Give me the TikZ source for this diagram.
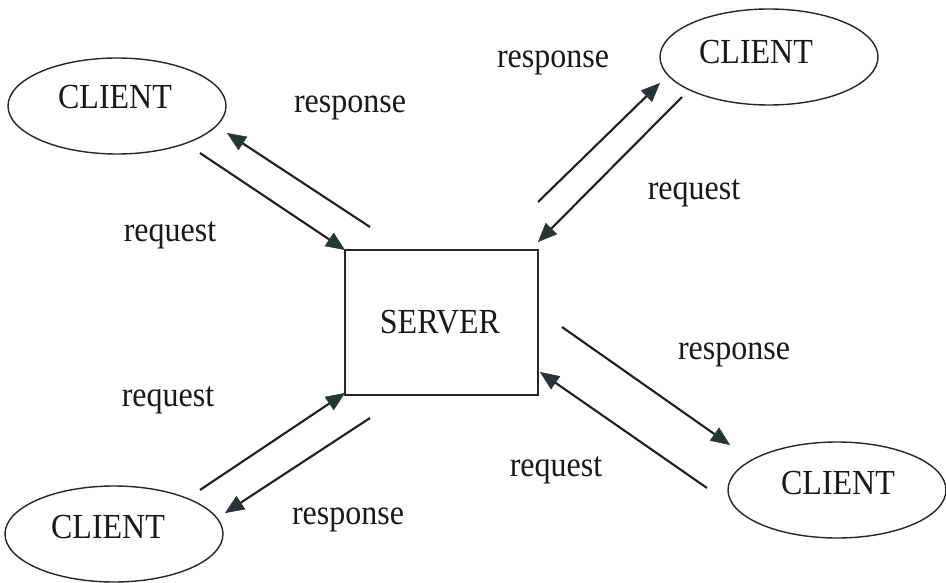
\documentclass[tikz,border=0pt]{standalone}
\usepackage{fontspec}
\setmainfont{Liberation Serif}
\usetikzlibrary{arrows.meta,shapes.geometric}

% labels are set slightly taller than wide
\newcommand{\tallword}[1]{\scalebox{1}[1.1]{#1}}

\definecolor{headgrey}{HTML}{2A3434}

\tikzset{
  client/.style={draw=black!85, line width=1.4pt, ellipse, minimum width=218pt, minimum height=96pt, inner sep=0pt},
  serverbox/.style={draw=black!85, line width=1.4pt, rectangle, minimum width=193pt, minimum height=145pt, inner sep=0pt},
  lbl/.style={font=\fontsize{32}{38}\selectfont, text=black!90, inner sep=0pt},
  msg/.style={draw=black!88, line width=2.1pt,
    -{Triangle[length=19pt,width=16pt,color=headgrey,fill=headgrey,line width=0.5pt]}},
}

\begin{document}
\begin{tikzpicture}[x=1pt,y=-1pt]
  \fill[white] (0,0) rectangle (946,583);
  \useasboundingbox (0,0) rectangle (946,583);

  % central server
  \node[serverbox] (srv) at (441.5,322.5) {};
  \node[lbl] (srvt) at (440,322) {\tallword{SERVER}};

  % the four clients
  \node[client] (ctl) at (117,106) {};
  \node[lbl] (ctlt) at (115,97) {\tallword{CLIENT}};
  \node[client] (ctr) at (769,57) {};
  \node[lbl] (ctrt) at (756,52) {\tallword{CLIENT}};
  \node[client] (cbl) at (114,534) {};
  \node[lbl] (cblt) at (108,527) {\tallword{CLIENT}};
  \node[client] (cbr) at (837,490) {};
  \node[lbl] (cbrt) at (838,483) {\tallword{CLIENT}};

  % arrow end points
  \coordinate (tlA) at (370,227);  \coordinate (tlB) at (227,133);
  \coordinate (tlC) at (200,153);  \coordinate (tlD) at (345,250);
  \coordinate (trA) at (538,202);  \coordinate (trB) at (660,83);
  \coordinate (trC) at (682,97);   \coordinate (trD) at (538,242);
  \coordinate (blA) at (200,490);  \coordinate (blB) at (345,393);
  \coordinate (blC) at (370,418);  \coordinate (blD) at (225,513);
  \coordinate (brA) at (562,327);  \coordinate (brB) at (730,445);
  \coordinate (brC) at (707,488);  \coordinate (brD) at (540,372);

  % request / response arrows
  \draw[msg] (tlA) -- (tlB);
  \draw[msg] (tlC) -- (tlD);
  \draw[msg] (trA) -- (trB);
  \draw[msg] (trC) -- (trD);
  \draw[msg] (blA) -- (blB);
  \draw[msg] (blC) -- (blD);
  \draw[msg] (brA) -- (brB);
  \draw[msg] (brC) -- (brD);

  % message labels
  \node[lbl] (l1) at (350,108) {\tallword{response}};
  \node[lbl] (l2) at (170,235) {\tallword{request}};
  \node[lbl] (l3) at (553,63) {\tallword{response}};
  \node[lbl] (l4) at (694,193) {\tallword{request}};
  \node[lbl] (l5) at (734,355) {\tallword{response}};
  \node[lbl] (l6) at (168,400) {\tallword{request}};
  \node[lbl] (l7) at (556,470) {\tallword{request}};
  \node[lbl] (l8) at (348,520) {\tallword{response}};
\end{tikzpicture}
\end{document}
